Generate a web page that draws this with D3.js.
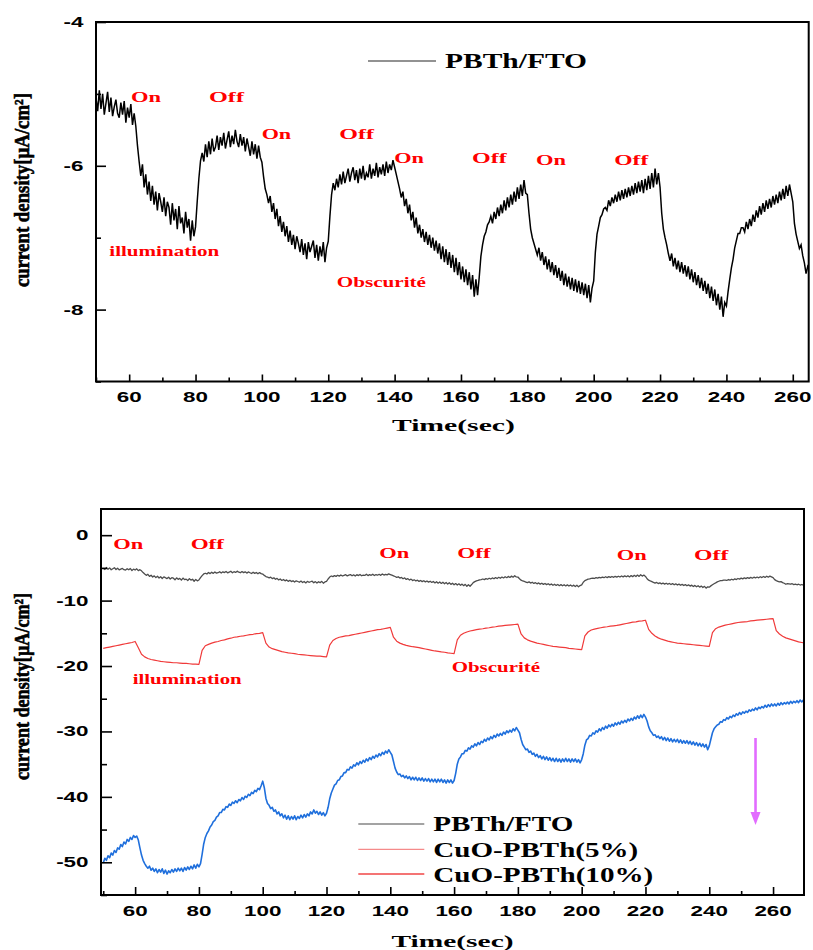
<!DOCTYPE html>
<html>
<head>
<meta charset="utf-8">
<script src="https://cdn.jsdelivr.net/npm/d3@7"></script>
<style>
  html, body { margin: 0; padding: 0; background: #fff; }
  svg { display: block; }
</style>
</head>
<body>
<svg id="fig" width="813" height="950"></svg>
<script>
// ---------------------------------------------------------------
// Photocurrent transients (light On / Off cycles), current density
// in µA/cm² versus time in seconds.
// ---------------------------------------------------------------

// PBTh/FTO, sampled every 0.5 s from t = 50 s to t = 270 s
const pbthFto = [
  -5.06,-5.24,-4.95,-5.21,-5.00,-5.29,-5.13,-4.97,-5.25,-5.05,-5.31,-5.18,-5.08,-5.27,-5.33,-5.12,-5.29,-5.10,-5.40,-5.19,-5.33,-5.14,-5.43,-5.27,
  -5.45,-5.72,-5.94,-6.14,-5.98,-6.30,-6.12,-6.40,-6.22,-6.49,-6.28,-6.54,-6.36,-6.62,-6.38,-6.50,-6.64,-6.44,-6.70,-6.50,-6.58,-6.82,-6.52,-6.76,-6.60,-6.88,-6.56,-6.80,-6.72,-6.94,-6.64,-6.86,-6.74,-7.04,-6.76,-6.98,
  -6.85,-6.50,-6.18,-5.93,-5.82,-5.94,-5.70,-5.88,-5.66,-5.84,-5.62,-5.80,-5.74,-5.58,-5.78,-5.60,-5.72,-5.54,-5.76,-5.64,-5.52,-5.74,-5.58,-5.70,-5.50,-5.66,-5.74,-5.56,-5.72,-5.60,-5.80,-5.62,-5.74,-5.86,-5.66,-5.84,-5.70,-5.90,-5.72,-5.88,
  -5.95,-6.15,-6.32,-6.40,-6.52,-6.42,-6.64,-6.52,-6.74,-6.60,-6.84,-6.70,-6.92,-6.78,-6.98,-6.84,-7.06,-6.90,-7.10,-6.96,-7.16,-6.98,-7.08,-7.20,-7.02,-7.24,-7.08,-7.30,-7.06,-7.20,-7.12,-7.04,-7.28,-7.10,-7.32,-7.12,-7.26,-7.06,-7.34,-7.14,
  -7.05,-6.70,-6.40,-6.24,-6.34,-6.18,-6.30,-6.12,-6.26,-6.08,-6.24,-6.14,-6.04,-6.22,-6.10,-6.02,-6.20,-6.06,-6.24,-6.04,-6.18,-6.00,-6.20,-6.10,-6.16,-5.98,-6.18,-6.04,-6.14,-5.96,-6.16,-6.02,-6.12,-5.98,-6.14,-5.94,-6.10,-5.98,-6.06,-5.92,
  -6.02,-6.12,-6.22,-6.32,-6.44,-6.36,-6.56,-6.46,-6.66,-6.54,-6.76,-6.64,-6.86,-6.72,-6.94,-6.82,-7.00,-6.88,-7.06,-6.92,-7.10,-6.96,-7.14,-7.00,-7.18,-7.04,-7.22,-7.08,-7.30,-7.12,-7.34,-7.16,-7.38,-7.20,-7.42,-7.24,-7.48,-7.28,-7.52,-7.34,-7.58,-7.40,-7.62,-7.44,-7.66,-7.48,-7.72,-7.52,-7.82,-7.58,
  -7.80,-7.55,-7.26,-7.10,-6.98,-6.92,-6.82,-6.78,-6.70,-6.80,-6.64,-6.74,-6.58,-6.70,-6.54,-6.66,-6.48,-6.62,-6.44,-6.58,-6.40,-6.54,-6.36,-6.50,-6.30,-6.46,-6.26,-6.42,-6.20,-6.38,
  -6.40,-6.66,-6.88,-7.00,-7.08,-7.16,-7.24,-7.14,-7.32,-7.20,-7.38,-7.26,-7.44,-7.30,-7.48,-7.34,-7.52,-7.38,-7.56,-7.42,-7.60,-7.46,-7.66,-7.50,-7.68,-7.54,-7.72,-7.56,-7.74,-7.58,-7.76,-7.60,-7.78,-7.62,-7.80,-7.64,-7.84,-7.66,-7.90,-7.70,
  -7.60,-7.20,-6.95,-6.84,-6.72,-6.68,-6.60,-6.58,-6.62,-6.48,-6.56,-6.44,-6.52,-6.40,-6.50,-6.36,-6.48,-6.34,-6.46,-6.32,-6.44,-6.30,-6.42,-6.28,-6.40,-6.24,-6.38,-6.22,-6.36,-6.20,-6.38,-6.18,-6.34,-6.14,-6.32,-6.10,-6.30,-6.04,-6.26,-6.10,
  -6.30,-6.66,-6.88,-7.00,-7.10,-7.22,-7.32,-7.22,-7.40,-7.28,-7.44,-7.32,-7.48,-7.34,-7.50,-7.38,-7.54,-7.40,-7.58,-7.44,-7.62,-7.48,-7.66,-7.52,-7.70,-7.56,-7.74,-7.60,-7.78,-7.64,-7.84,-7.68,-7.88,-7.72,-7.94,-7.78,-8.00,-7.82,-8.10,-7.90,
  -7.95,-7.75,-7.58,-7.42,-7.30,-7.14,-7.04,-6.94,-6.94,-6.86,-6.86,-6.92,-6.78,-6.88,-6.74,-6.84,-6.68,-6.78,-6.62,-6.72,-6.56,-6.68,-6.52,-6.64,-6.48,-6.60,-6.46,-6.58,-6.42,-6.54,-6.40,-6.52,-6.36,-6.48,-6.32,-6.46,-6.28,-6.42,-6.26,-6.38,
  -6.50,-6.80,-6.95,-7.05,-7.15,-7.10,-7.25,-7.35,-7.50,-7.40,-7.45,-7.50,-7.42,-7.55,-7.48,-7.58,-7.50,-7.62,-7.54,-7.64,-7.58
];

// CuO-PBTh(5%), sampled every 1 s from t = 50 s to t = 270 s
const cuoPbth5 = [
  -17.3,-17.2,-17.1,-17.0,-16.9,-16.8,-16.7,-16.6,-16.5,-16.4,-16.25,
  -17.2,-18.2,-18.6,-18.85,-19.0,-19.1,-19.2,-19.3,-19.35,-19.4,-19.45,-19.5,-19.5,-19.55,-19.6,-19.6,-19.65,-19.7,-19.7,-19.75,
  -17.6,-16.9,-16.7,-16.5,-16.35,-16.25,-16.1,-16.0,-15.85,-15.75,-15.6,-15.55,-15.45,-15.4,-15.3,-15.2,-15.15,-15.05,-15.0,-14.9,
  -16.5,-17.1,-17.35,-17.5,-17.65,-17.8,-17.9,-18.0,-18.05,-18.1,-18.2,-18.25,-18.3,-18.35,-18.4,-18.45,-18.5,-18.5,-18.55,-18.6,
  -16.8,-16.1,-15.8,-15.6,-15.5,-15.4,-15.35,-15.25,-15.15,-15.05,-14.95,-14.85,-14.75,-14.65,-14.55,-14.45,-14.4,-14.3,-14.2,-14.1,
  -15.6,-16.2,-16.5,-16.7,-16.85,-16.95,-17.05,-17.1,-17.2,-17.3,-17.4,-17.5,-17.6,-17.7,-17.75,-17.85,-17.9,-18.0,-18.05,-18.1,
  -16.0,-15.3,-15.0,-14.8,-14.65,-14.55,-14.45,-14.35,-14.3,-14.2,-14.15,-14.05,-14.0,-13.9,-13.85,-13.8,-13.75,-13.7,-13.65,-13.6,
  -15.1,-15.7,-16.0,-16.2,-16.35,-16.5,-16.6,-16.7,-16.8,-16.9,-17.0,-17.05,-17.1,-17.15,-17.2,-17.3,-17.35,-17.4,-17.45,-17.5,
  -15.4,-14.8,-14.5,-14.35,-14.25,-14.15,-14.05,-14.0,-13.9,-13.85,-13.8,-13.7,-13.6,-13.5,-13.4,-13.3,-13.25,-13.15,-13.1,-13.0,
  -14.4,-15.0,-15.4,-15.7,-15.9,-16.05,-16.2,-16.3,-16.4,-16.5,-16.55,-16.6,-16.65,-16.7,-16.75,-16.8,-16.85,-16.9,-16.95,-17.0,
  -14.9,-14.3,-14.05,-13.9,-13.75,-13.65,-13.55,-13.45,-13.35,-13.3,-13.25,-13.2,-13.1,-13.05,-13.0,-12.95,-12.9,-12.85,-12.8,-12.75,
  -14.6,-15.1,-15.45,-15.7,-15.85,-16.0,-16.15,-16.3,-16.4,-16.5
];

// CuO-PBTh(10%), sampled every 0.5 s from t = 50 s to t = 270 s
const cuoPbth10 = [
  -50.1,-49.4,-49.7,-49.0,-49.3,-48.6,-48.9,-48.2,-48.5,-47.8,-48.0,-47.3,-47.6,-46.9,-47.2,-46.5,-46.8,-46.2,-46.5,-45.9,-46.2,
  -46.0,-46.6,-47.8,-48.9,-49.7,-50.2,-50.6,-50.9,-50.6,-51.2,-50.9,-51.4,-51.0,-51.6,-51.1,-51.5,-51.0,-51.7,-51.2,-51.8,-51.3,-51.6,-51.1,-51.5,-51.0,-51.4,-50.9,-51.3,-50.9,-51.4,-50.8,-51.2,-50.7,-51.1,-50.6,-51.0,-50.4,-50.9,-50.3,-50.7,
  -50.2,-48.8,-47.2,-46.2,-45.6,-45.2,-44.6,-44.3,-43.8,-43.6,-43.1,-42.9,-42.4,-42.4,-41.9,-42.0,-41.5,-41.6,-41.1,-41.3,-40.8,-41.0,-40.6,-40.9,-40.4,-40.6,-40.1,-40.4,-39.9,-40.1,-39.6,-39.8,-39.3,-39.5,-39.0,-39.2,-38.7,-38.9,-38.3,-37.6,
  -38.6,-40.2,-41.0,-41.3,-41.8,-41.6,-42.2,-42.0,-42.6,-42.3,-42.9,-42.6,-43.2,-42.8,-43.4,-42.9,-43.5,-43.0,-43.4,-42.9,-43.5,-43.0,-43.3,-42.8,-43.2,-42.7,-43.1,-42.6,-42.9,-42.3,-42.6,-42.0,-42.5,-42.2,-42.7,-42.3,-42.8,-42.4,-42.9,-42.5,
  -41.6,-40.3,-39.4,-38.8,-38.2,-38.0,-37.5,-37.4,-36.9,-36.8,-36.3,-36.3,-35.8,-35.9,-35.4,-35.6,-35.1,-35.3,-34.8,-35.1,-34.6,-34.9,-34.4,-34.7,-34.2,-34.5,-34.0,-34.3,-33.8,-34.1,-33.6,-33.9,-33.4,-33.7,-33.2,-33.5,-33.0,-33.3,-32.8,-33.2,
  -33.6,-34.6,-35.6,-36.2,-36.6,-36.5,-36.9,-36.7,-37.1,-36.8,-37.2,-36.9,-37.4,-37.0,-37.4,-37.0,-37.5,-37.1,-37.5,-37.1,-37.6,-37.2,-37.6,-37.2,-37.7,-37.3,-37.7,-37.3,-37.8,-37.3,-37.7,-37.3,-37.8,-37.4,-37.9,-37.4,-37.8,-37.4,-37.9,-37.5,
  -36.4,-35.0,-34.2,-33.9,-33.4,-33.4,-32.9,-33.0,-32.5,-32.7,-32.2,-32.4,-31.9,-32.2,-31.7,-32.0,-31.5,-31.7,-31.2,-31.5,-31.0,-31.3,-30.8,-31.1,-30.6,-30.9,-30.4,-30.7,-30.3,-30.6,-30.1,-30.4,-29.9,-30.2,-29.8,-30.1,-29.6,-29.9,-29.4,-29.8,
  -30.2,-31.2,-32.0,-32.4,-32.8,-32.7,-33.2,-33.0,-33.5,-33.3,-33.8,-33.5,-34.0,-33.7,-34.2,-33.8,-34.3,-33.9,-34.4,-34.0,-34.5,-34.1,-34.6,-34.1,-34.6,-34.2,-34.7,-34.2,-34.6,-34.1,-34.6,-34.2,-34.7,-34.2,-34.6,-34.2,-34.7,-34.3,-34.8,-34.3,
  -33.4,-32.1,-31.3,-31.1,-30.6,-30.7,-30.2,-30.4,-29.9,-30.1,-29.6,-29.9,-29.4,-29.7,-29.2,-29.5,-29.0,-29.3,-28.9,-29.2,-28.7,-29.0,-28.6,-28.9,-28.4,-28.7,-28.3,-28.6,-28.1,-28.4,-28.0,-28.3,-27.8,-28.1,-27.6,-28.0,-27.5,-27.9,-27.4,-27.8,
  -28.4,-29.3,-29.9,-30.2,-30.6,-30.5,-30.9,-30.7,-31.1,-30.8,-31.3,-30.9,-31.4,-31.0,-31.5,-31.1,-31.6,-31.2,-31.6,-31.2,-31.7,-31.3,-31.8,-31.4,-31.8,-31.4,-31.9,-31.5,-32.0,-31.6,-32.1,-31.7,-32.2,-31.8,-32.3,-31.9,-32.4,-32.0,-32.8,-32.2,
  -31.2,-30.2,-29.6,-29.3,-29.0,-28.9,-28.5,-28.6,-28.2,-28.3,-27.9,-28.1,-27.7,-27.9,-27.5,-27.7,-27.3,-27.5,-27.1,-27.4,-27.0,-27.2,-26.9,-27.1,-26.7,-26.9,-26.6,-26.8,-26.4,-26.7,-26.3,-26.5,-26.2,-26.4,-26.0,-26.3,-25.9,-26.2,-25.8,-26.1,
  -25.8,-26.1,-25.7,-26.0,-25.6,-25.9,-25.6,-25.8,-25.5,-25.8,-25.4,-25.7,-25.4,-25.6,-25.3,-25.6,-25.2,-25.5,-25.2,-25.4
];

// sampling of each record: first time (s) and step (s)
const recordStart = 50;
const fineStep = 0.5;
const coarseStep = 1;

// axis tick values
const timeTicks      = [60, 80, 100, 120, 140, 160, 180, 200, 220, 240, 260];
const timeMinorTicks = [50, 70, 90, 110, 130, 150, 170, 190, 210, 230, 250];
const topTicks       = [-8, -6, -4];
const topMinorTicks  = [-9, -7, -5];
const bottomTicks      = [-50, -40, -30, -20, -10, 0];
const bottomMinorTicks = [-55, -45, -35, -25, -15, -5];

// series names
const seriesNames = ["PBTh/FTO", "CuO-PBTh(5%)", "CuO-PBTh(10%)"];

// trend arrow of the CuO-PBTh(10%) record: time (s), start and end current
const arrowTime = 254.5;
const arrowFrom = -31.0;
const arrowTo = -44.3;

// ---------------------------------------------------------------
const SANS  = "'Liberation Sans', Arial, Helvetica, sans-serif";
const SERIF = "'Liberation Serif', 'Times New Roman', Times, serif";
const RED = "#ff0000";

const svg = d3.select("#fig");

const toPoints = (vals, step) => vals.map((v, i) => ({ t: recordStart + i * step, v }));

// bold text widened horizontally (the figure's lettering is wide)
function wideText(g, str, px, py, anchor, size, sx, family, fill) {
  return g.append("text")
    .attr("transform", `translate(${px},${py}) scale(${sx},1)`)
    .attr("text-anchor", anchor)
    .attr("font-family", family)
    .attr("font-weight", "bold")
    .attr("font-size", size)
    .attr("fill", fill || "#000")
    .text(str);
}

// bold text fitted to a given width
function fitText(g, str, px, py, len, size, family, fill, anchor) {
  return g.append("text")
    .attr("x", px).attr("y", py)
    .attr("text-anchor", anchor || "start")
    .attr("textLength", len)
    .attr("lengthAdjust", "spacingAndGlyphs")
    .attr("font-family", family)
    .attr("font-weight", "bold")
    .attr("font-size", size)
    .attr("fill", fill || "#000")
    .text(str);
}

// rotated y-axis title, heavy condensed lettering
function yTitle(g, cx, cy, len) {
  g.append("text")
    .attr("transform", `translate(${cx},${cy}) rotate(-90)`)
    .attr("text-anchor", "middle")
    .attr("textLength", len).attr("lengthAdjust", "spacingAndGlyphs")
    .attr("font-family", SERIF).attr("font-weight", "bold").attr("font-size", 21)
    .attr("stroke", "#000").attr("stroke-width", 0.6)
    .text("current density[µA/cm²]");
}

function drawFrame(g, x, y, opts) {
  const [xl, xr] = x.range();
  const [yb, yt] = y.range();

  const inside = (sel) => sel.select(".domain").remove();

  // x ticks, pointing into the plot
  g.append("g").attr("transform", `translate(0,${yb})`)
    .call(d3.axisBottom(x).tickValues(timeTicks).tickSize(-opts.xMajor).tickFormat(""))
    .call(inside);
  g.append("g").attr("transform", `translate(0,${yb})`)
    .call(d3.axisBottom(x).tickValues(timeMinorTicks.filter(t => t >= x.domain()[0] && t <= x.domain()[1]))
      .tickSize(-opts.xMinor).tickFormat(""))
    .call(inside);
  // y ticks, pointing into the plot
  g.append("g").attr("transform", `translate(${xl},0)`)
    .call(d3.axisLeft(y).tickValues(opts.yTicks).tickSize(-opts.yMajor).tickFormat(""))
    .call(inside);
  g.append("g").attr("transform", `translate(${xl},0)`)
    .call(d3.axisLeft(y).tickValues(opts.yMinor.filter(v => v >= y.domain()[0] && v <= y.domain()[1]))
      .tickSize(-opts.yMinorLen).tickFormat(""))
    .call(inside);
  g.selectAll(".tick line").attr("stroke", "#000").attr("stroke-width", 1.6);

  // frame
  g.append("rect")
    .attr("x", xl).attr("y", yt)
    .attr("width", xr - xl).attr("height", yb - yt)
    .attr("fill", "none").attr("stroke", "#000").attr("stroke-width", 2);

  // tick labels
  timeTicks.forEach(t => wideText(g, String(t), x(t), yb + 20.5, "middle", 14, 1.6, SANS));
  opts.yTicks.forEach(v => wideText(g, String(v), xl - 12.5, y(v) + 5, "end", 14, 1.6, SANS));
}

function clipTo(g, id, x, y) {
  const [xl, xr] = x.range();
  const [yb, yt] = y.range();
  g.append("clipPath").attr("id", id)
    .append("rect").attr("x", xl).attr("y", yt).attr("width", xr - xl).attr("height", yb - yt);
}

// ================= upper panel: PBTh/FTO ========================
{
  const g = svg.append("g");
  const x = d3.scaleLinear().domain([50, 264.8]).range([96, 808.7]);
  const y = d3.scaleLinear().domain([-9, -4]).range([381.5, 22]);
  clipTo(g, "clipTop", x, y);

  const line = d3.line().x(d => x(d.t)).y(d => y(d.v));
  g.append("path")
    .datum(toPoints(pbthFto, fineStep))
    .attr("clip-path", "url(#clipTop)")
    .attr("d", line)
    .attr("fill", "none").attr("stroke", "#000").attr("stroke-width", 1.5)
    .attr("stroke-linejoin", "miter");

  drawFrame(g, x, y, { xMajor: 7, xMinor: 4, yTicks: topTicks, yMinor: topMinorTicks, yMajor: 10, yMinorLen: 5 });

  // legend
  g.append("line").attr("x1", 368).attr("x2", 436).attr("y1", 61).attr("y2", 61)
    .attr("stroke", "#6e6e6e").attr("stroke-width", 1.5);
  fitText(g, seriesNames[0], 445, 68.3, 142, 21, SERIF);

  // light switching annotations
  [["On", 131, 102.3, 30], ["Off", 209, 102.3, 35],
   ["On", 261.7, 139.3, 29.5], ["Off", 339.3, 139.3, 34.7],
   ["On", 394.3, 163.3, 29.7], ["Off", 472, 162.7, 34.7],
   ["On", 536, 165, 30], ["Off", 614.3, 165, 34]]
    .forEach(([s, px, py, w]) => fitText(g, s, px, py, w, 14, SERIF, RED));
  fitText(g, "illumination", 109.3, 256, 110, 14, SERIF, RED);
  fitText(g, "Obscurité", 336.7, 287.3, 89.3, 14, SERIF, RED);

  // axis titles
  fitText(g, "Time(sec)", 453.4, 431, 123, 17, SERIF, "#000", "middle");
  yTitle(g, 29, 190, 194);
}

// ========== lower panel: PBTh/FTO vs CuO-PBTh composites ==========
{
  const g = svg.append("g");
  const x = d3.scaleLinear().domain([49.3, 269.7]).range([101, 804]);
  const y = d3.scaleLinear().domain([-55, 4]).range([895, 509]);
  clipTo(g, "clipBottom", x, y);

  const line = d3.line().x(d => x(d.t)).y(d => y(d.v));
  const records = [
    { vals: pbthFto,   step: fineStep,   color: "#4d4d4d", w: 1.3 },
    { vals: cuoPbth5,  step: coarseStep, color: "#f03a3a", w: 1.2 },
    { vals: cuoPbth10, step: fineStep,   color: "#1f6fdc", w: 1.6 }
  ];
  records.forEach(r => {
    g.append("path")
      .datum(toPoints(r.vals, r.step))
      .attr("clip-path", "url(#clipBottom)")
      .attr("d", line)
      .attr("fill", "none").attr("stroke", r.color).attr("stroke-width", r.w)
      .attr("stroke-linejoin", "round");
  });

  drawFrame(g, x, y, { xMajor: 8, xMinor: 4, yTicks: bottomTicks, yMinor: bottomMinorTicks, yMajor: 11, yMinorLen: 6 });

  // legend
  const legendColors = ["#858585", "#f58a8a", "#f04646"];
  const legendY = [824, 849.3, 874];
  const legendBase = [830.7, 856.7, 881.7];
  const legendLen = [140, 205, 220];
  seriesNames.forEach((name, i) => {
    g.append("line").attr("x1", 358.3).attr("x2", 424.3)
      .attr("y1", legendY[i]).attr("y2", legendY[i])
      .attr("stroke", legendColors[i]).attr("stroke-width", 1.3);
    fitText(g, name, 433.3, legendBase[i], legendLen[i], 20, SERIF);
  });

  // trend arrow
  const arrowColor = "#e26cff";
  const ax = x(arrowTime), ay0 = y(arrowFrom), ay1 = y(arrowTo);
  g.append("line").attr("x1", ax).attr("x2", ax).attr("y1", ay0).attr("y2", ay1 - 11)
    .attr("stroke", arrowColor).attr("stroke-width", 2.6);
  g.append("path")
    .attr("d", `M${ax - 5},${ay1 - 13} L${ax + 5},${ay1 - 13} L${ax},${ay1} Z`)
    .attr("fill", arrowColor);

  // light switching annotations
  [["On", 113.3, 549, 30], ["Off", 190.7, 549, 33.3],
   ["On", 379.3, 557.7, 30], ["Off", 457.3, 557.7, 33.3],
   ["On", 616.7, 560, 30], ["Off", 694, 560, 34.3]]
    .forEach(([s, px, py, w]) => fitText(g, s, px, py, w, 14, SERIF, RED));
  fitText(g, "illumination", 132.7, 684, 109, 14, SERIF, RED);
  fitText(g, "Obscurité", 451.7, 671.7, 88.3, 14, SERIF, RED);

  // axis titles
  fitText(g, "Time(sec)", 452.5, 947, 122, 17, SERIF, "#000", "middle");
  yTitle(g, 29, 686.5, 187);
}
</script>
</body>
</html>
